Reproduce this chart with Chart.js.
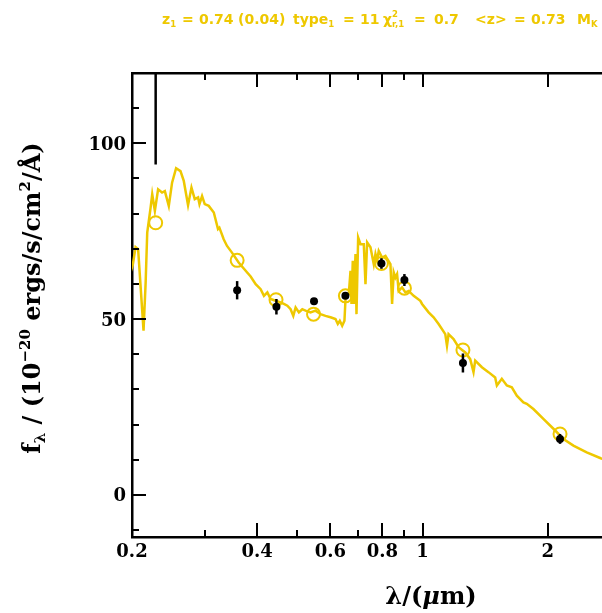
<!DOCTYPE html>
<html>
<head>
<meta charset="utf-8">
<script src="https://cdn.jsdelivr.net/npm/chart.js@4.4.1/dist/chart.umd.min.js"></script>
<style>
  html, body { margin: 0; padding: 0; background: #fff; }
  #wrap { width: 602px; height: 613px; }
</style>
</head>
<body>
<div id="wrap"><canvas id="c" width="602" height="613"></canvas></div>
<script>
// ---- data ----
const specLambda = [0.198,0.2010,0.2040,0.2069,0.2132,0.2157,0.2176,0.2217,0.2237,0.2270,0.2311,0.2362,0.2399,0.2452,0.2497,0.2553,0.2616,0.2664,0.2728,0.2780,0.2831,0.2884,0.2906,0.2948,0.2992,0.3059,0.3146,0.3220,0.3245,0.3323,0.3385,0.3479,0.3610,0.3780,0.3858,0.3967,0.4078,0.4153,0.4232,0.4310,0.4431,0.4555,0.4639,0.4727,0.4814,0.4886,0.4949,0.5040,0.5135,0.5229,0.5375,0.5526,0.5680,0.5840,0.6004,0.6172,0.6251,0.6321,0.6405,0.6486,0.6524,0.6584,0.6644,0.6707,0.6744,0.6792,0.6830,0.6895,0.6933,0.6997,0.7088,0.7219,0.7287,0.7354,0.7491,0.7629,0.7701,0.7772,0.7842,0.7990,0.8139,0.8367,0.8444,0.8520,0.8601,0.8680,0.8758,0.8924,0.9090,0.9256,0.9515,0.9874,0.9968,1.0337,1.0627,1.0924,1.1336,1.1443,1.1544,1.1868,1.2200,1.2661,1.3015,1.3254,1.3379,1.3884,1.4399,1.4943,1.5085,1.5504,1.5939,1.6386,1.6846,1.7471,1.7804,1.8465,1.9515,2.0633,2.1809,2.3047,2.4806,2.6806,2.75];
const specFlux   = [63.0,65.6,70.5,69.9,46.7,60.4,74.6,81.7,85.5,80.8,86.9,86.0,86.4,82.2,88.8,92.9,92.1,89.3,82.4,87.4,84.1,84.6,82.7,85.0,82.7,82.2,80.3,75.6,76.0,72.7,70.8,68.9,66.1,63.3,62.1,59.9,58.5,56.6,57.6,55.7,55.2,54.7,54.3,53.8,52.8,50.9,53.3,51.9,52.8,52.4,51.9,52.4,51.4,50.9,50.5,50.0,48.6,49.5,48.1,49.5,55.7,56.6,57.1,63.7,54.3,66.6,54.3,68.5,51.4,73.2,71.3,71.3,59.9,71.8,70.4,65.6,68.5,66.6,69.4,67.5,68.0,65.6,54.3,63.3,61.8,62.8,58.0,59.0,57.6,58.0,56.6,55.2,54.3,51.9,50.5,48.6,45.7,42.4,45.7,44.3,42.0,40.5,38.6,34.9,38.2,36.3,34.9,33.4,31.1,33.0,31.1,30.6,28.2,26.3,25.9,24.4,21.6,18.8,15.9,14.0,12.1,10.4,9.9];

const modelLambda = [0.228,0.358,0.444,0.5465,0.652,0.796,0.904,1.25,2.14];
const modelFlux   = [77.4,66.7,55.5,51.4,56.6,65.8,58.8,41.2,17.3];

const obsLambda = [0.358,0.445,0.548,0.652,0.796,0.904,1.25,2.14];
const obsFlux   = [58.2,53.5,55.1,56.6,65.8,61.1,37.5,15.9];
const obsErr    = [2.6,2.2,0.4,0.5,1.5,1.7,2.7,1.4];

// band whose flux lies above the plotted range: only the lower part of its error bar shows
const offLambda = [0.228];
const offLow    = [94];

const xTickValues = [0.2,0.4,0.6,0.8,1,2];
const xMinorValues = [0.3,0.5,0.7,0.9];
const yTickValues = [0,50,100];
const yMinorValues = [-10,10,20,30,40,60,70,80,90,110,120];

// ---- styles ----
const YEL = 'rgb(238,200,0)';
const LBL_FONT = 'DejaVu Serif';

const spec = specLambda.map((l,i)=>({x:l,y:specFlux[i]}));
const model = modelLambda.map((l,i)=>({x:l,y:modelFlux[i]}));
const obs = obsLambda.map((l,i)=>({x:l,y:obsFlux[i]}));
const off = [];
offLambda.forEach((l,i)=>{ off.push({x:l,y:offLow[i]}); off.push({x:l,y:200}); });

const errPlugin = {
  id:'errbars',
  afterDatasetsDraw(chart){
    const ctx = chart.ctx, xs = chart.scales.x, ys = chart.scales.y, a = chart.chartArea;
    ctx.save();
    ctx.beginPath(); ctx.rect(a.left,a.top,a.right-a.left,a.bottom-a.top); ctx.clip();
    ctx.strokeStyle = '#000'; ctx.lineWidth = 2.5;
    obsLambda.forEach((l,i)=>{
      const px = xs.getPixelForValue(l);
      ctx.beginPath();
      ctx.moveTo(px, ys.getPixelForValue(obsFlux[i]-obsErr[i]));
      ctx.lineTo(px, ys.getPixelForValue(obsFlux[i]+obsErr[i]));
      ctx.stroke();
    });
    ctx.restore();
  }
};

const tickPlugin = {
  id:'tickmarks',
  afterDraw(chart){
    const ctx = chart.ctx, xs = chart.scales.x, ys = chart.scales.y, a = chart.chartArea;
    ctx.save();
    ctx.strokeStyle = '#000'; ctx.lineWidth = 2;
    const seg=(x1,y1,x2,y2)=>{ctx.beginPath();ctx.moveTo(x1,y1);ctx.lineTo(x2,y2);ctx.stroke();};
    xTickValues.forEach(v=>{ const p=Math.round(xs.getPixelForValue(v)); seg(p,a.bottom,p,a.bottom-14); seg(p,a.top,p,a.top+14); });
    xMinorValues.forEach(v=>{ const p=Math.round(xs.getPixelForValue(v)); seg(p,a.bottom,p,a.bottom-7); seg(p,a.top,p,a.top+7); });
    yTickValues.forEach(v=>{ const p=Math.round(ys.getPixelForValue(v)); seg(a.left,p,a.left+14,p); });
    yMinorValues.forEach(v=>{ const p=Math.round(ys.getPixelForValue(v)); seg(a.left,p,a.left+7,p); });
    ctx.restore();
  }
};

function drawParts(ctx, x, y, parts){
  let cx = x;
  for (const p of parts){
    if (p.at !== undefined) cx = p.at;
    if (p.stack){
      let w = 0;
      for (const s of p.stack){ ctx.font = s.f; ctx.fillText(s.t, cx, y + s.dy); w = Math.max(w, ctx.measureText(s.t).width); }
      cx += w;
    } else {
      ctx.font = p.f; ctx.fillText(p.t, cx, y + (p.dy||0)); cx += ctx.measureText(p.t).width;
    }
  }
  return cx;
}
function partsWidth(ctx, parts){
  let w=0;
  for (const p of parts){
    if (p.stack){ let m=0; for (const s of p.stack){ ctx.font=s.f; m=Math.max(m,ctx.measureText(s.t).width);} w+=m; }
    else { ctx.font=p.f; w+=ctx.measureText(p.t).width; }
  }
  return w;
}

const textPlugin = {
  id:'texts',
  afterDraw(chart){
    const ctx = chart.ctx;
    ctx.save();
    ctx.textBaseline = 'alphabetic'; ctx.textAlign = 'left';
    // header
    ctx.fillStyle = YEL;
    const H = 'bold 14px "DejaVu Sans"', HS = 'bold 8.5px "DejaVu Sans"';
    const hy = 24;
    drawParts(ctx, 162, hy, [
      {t:'z',f:H},{t:'1',f:HS,dy:3},
      {at:182,t:'=',f:H},{at:199,t:'0.74',f:H},{at:238,t:'(0.04)',f:H},
      {at:293,t:'type',f:H},{t:'1',f:HS,dy:3},
      {at:343,t:'=',f:H},{at:360,t:'11',f:H},
      {at:383,t:'χ',f:H},{stack:[{t:'2',f:HS,dy:-7},{t:'r,1',f:HS,dy:3}]},
      {at:414,t:'=',f:H},{at:434,t:'0.7',f:H},
      {at:475,t:'<z>',f:H},{at:514,t:'=',f:H},{at:531,t:'0.73',f:H},
      {at:577,t:'M',f:H},{t:'K',f:HS,dy:3}
    ]);

    // x title
    ctx.fillStyle = '#000';
    const T = 'bold 24px "' + LBL_FONT + '"', TI = 'italic bold 24px "' + LBL_FONT + '"';
    const xParts = [{t:'λ/(',f:T},{t:'μ',f:TI},{t:'m)',f:T}];
    const xw = partsWidth(ctx, xParts);
    drawParts(ctx, 431 - xw/2, 604, xParts);

    // y title
    const TS = 'bold 15px "' + LBL_FONT + '"';
    const yParts = [{t:'f',f:T},{t:'λ',f:TS,dy:5},{t:' / (10',f:T},{t:'−20',f:TS,dy:-10},{t:' ergs/s/cm',f:T},{t:'2',f:TS,dy:-10},{t:'/Å)',f:T}];
    const yw = partsWidth(ctx, yParts);
    ctx.translate(40, 298);
    ctx.rotate(-Math.PI/2);
    drawParts(ctx, -yw/2, 0, yParts);
    ctx.restore();
  }
};

const xRange = {min:0.2, max:2.70};
const noPad = (s)=>{ s.paddingLeft = 0; s.paddingRight = 0; };

new Chart(document.getElementById('c'), {
  type:'scatter',
  data:{
    datasets:[
      {type:'line', data:spec, borderColor:YEL, borderWidth:2.5, pointRadius:0, tension:0, fill:false, order:4},
      {data:model, pointRadius:6.5, pointBorderWidth:2, pointBorderColor:YEL, pointBackgroundColor:'rgba(0,0,0,0)', showLine:false, order:3},
      {type:'line', data:off, borderColor:'#000', borderWidth:2.5, pointRadius:0, fill:false, order:2},
      {data:obs, pointRadius:4, pointBorderWidth:0, pointBackgroundColor:'#000', pointBorderColor:'#000', showLine:false, order:1}
    ]
  },
  options:{
    responsive:false, animation:false, devicePixelRatio:1,
    layout:{autoPadding:false, padding:{left:0,right:0,top:0,bottom:0}},
    plugins:{legend:{display:false}, tooltip:{enabled:false}, title:{display:false}},
    scales:{
      x:{
        type:'logarithmic', position:'bottom', min:xRange.min, max:xRange.max,
        grid:{display:false, drawTicks:false},
        border:{display:true, color:'#000', width:2.5},
        ticks:{autoSkip:false, maxRotation:0, padding:5, color:'#000', font:{family:LBL_FONT, size:18, weight:'bold'},
               callback:(v)=>String(v)},
        afterBuildTicks:(s)=>{ s.ticks = xTickValues.map(v=>({value:v})); },
        afterFit:(s)=>{ s.height = 76; noPad(s); }
      },
      x2:{
        type:'logarithmic', position:'top', min:xRange.min, max:xRange.max,
        grid:{display:false, drawTicks:false},
        border:{display:true, color:'#000', width:2.5},
        ticks:{display:false},
        afterFit:(s)=>{ s.height = 73; noPad(s); }
      },
      y:{
        type:'linear', position:'left', min:-12, max:120,
        grid:{display:false, drawTicks:false},
        border:{display:true, color:'#000', width:2.5},
        ticks:{padding:6, labelOffset:2, color:'#000', font:{family:LBL_FONT, size:18, weight:'bold'}},
        afterBuildTicks:(s)=>{ s.ticks = yTickValues.map(v=>({value:v})); },
        afterFit:(s)=>{ s.width = 132; s.paddingTop = 0; s.paddingBottom = 0; }
      }
    }
  },
  plugins:[errPlugin, tickPlugin, textPlugin]
});
</script>
</body>
</html>
